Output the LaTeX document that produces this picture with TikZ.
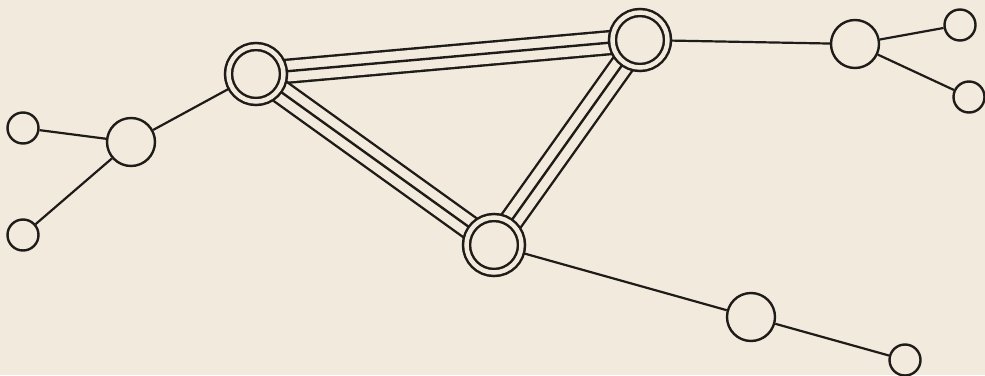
\documentclass[tikz,border=0pt]{standalone}
\usetikzlibrary{backgrounds}
\definecolor{paper}{HTML}{F1EADD}
\definecolor{ink}{HTML}{1E1B18}
\pgfdeclarelayer{paperlayer}
\pgfdeclarelayer{edgelayer}
\pgfsetlayers{paperlayer,edgelayer,main}
\begin{document}
\begin{tikzpicture}[x=1pt,y=-1pt,
  bigring/.style={circle, inner sep=0pt, minimum size=55pt, draw=ink, line width=2.5pt, double=paper, double distance=4.5pt, fill=paper},
  midball/.style={circle, inner sep=0pt, minimum size=48pt, draw=ink, line width=2.4pt, fill=paper},
  smallball/.style={circle, inner sep=0pt, minimum size=31pt, draw=ink, line width=2.4pt, fill=paper},
  wire/.style={draw=ink, line width=2.2pt},
  tripleline/.style={draw=ink, line width=25.4pt, postaction={draw=paper, line width=20.6pt}, postaction={draw=ink, line width=2.4pt}}
]
\useasboundingbox (0,0) rectangle (985,375);
\begin{pgfonlayer}{paperlayer}
  \fill[paper] (0,0) rectangle (985,375);
\end{pgfonlayer}
\node[bigring] (A) at (256,74) {};
\node[bigring] (B) at (640,40) {};
\node[bigring] (C) at (494,245) {};
\node[midball] (L) at (131,142) {};
\node[smallball] (L1) at (23,128) {};
\node[smallball] (L2) at (23,235) {};
\node[midball] (R) at (855,44) {};
\node[smallball] (R1) at (960,25) {};
\node[smallball] (R2) at (969,97) {};
\node[midball] (D) at (751,317) {};
\node[smallball] (D1) at (905,360) {};
\begin{pgfonlayer}{edgelayer}
  \draw[tripleline] (A) -- (B);
  \draw[tripleline] (A) -- (C);
  \draw[tripleline] (B) -- (C);
  \draw[wire] (A) -- (L);
  \draw[wire] (L) -- (L1);
  \draw[wire] (L) -- (L2);
  \draw[wire] (B) -- (R);
  \draw[wire] (R) -- (R1);
  \draw[wire] (R) -- (R2);
  \draw[wire] (C) -- (D);
  \draw[wire] (D) -- (D1);
\end{pgfonlayer}
\end{tikzpicture}
\end{document}
